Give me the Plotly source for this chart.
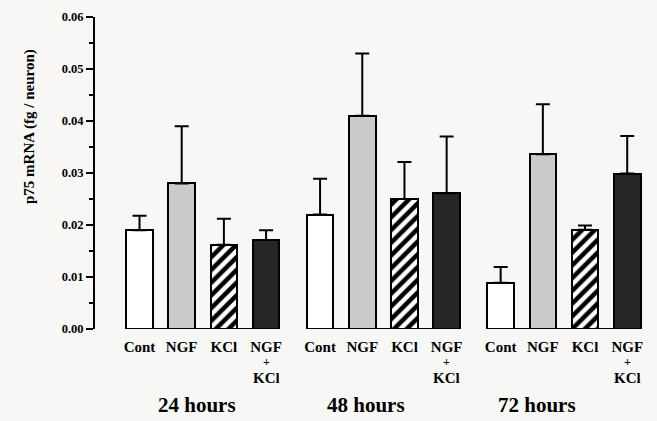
import plotly.graph_objects as go

groups = ["24 hours", "48 hours", "72 hours"]
treatments = ["Cont", "NGF", "KCl", "NGF"]
combo_extra_lines = ["+", "KCl"]
means = {
    "Cont":    [0.0190, 0.0220, 0.0089],
    "NGF":     [0.0280, 0.0410, 0.0336],
    "KCl":     [0.0162, 0.0250, 0.0191],
    "NGF+KCl": [0.0171, 0.0261, 0.0299],
}
errors = {
    "Cont":    [0.0028, 0.0069, 0.0030],
    "NGF":     [0.0110, 0.0120, 0.0096],
    "KCl":     [0.0050, 0.0071, 0.0008],
    "NGF+KCl": [0.0019, 0.0109, 0.0072],
}
y_ticks = [0.00, 0.01, 0.02, 0.03, 0.04, 0.05, 0.06]
y_tick_labels = ["0.00", "0.01", "0.02", "0.03", "0.04", "0.05", "0.06"]

GROUP_STEP = 4.28
BAR_W = 0.63
FONT = "Liberation Serif"
BG = "#f7f7f6"
PLOT_L, PLOT_R, PLOT_T, PLOT_B = 95, 650, 17, 329
H = PLOT_B - PLOT_T


def py(pixel_y):
    return (PLOT_B - pixel_y) / H


styles = {
    "Cont":    dict(color="white", pattern=None),
    "NGF":     dict(color="#cacaca", pattern=None),
    "KCl":     dict(color="white", pattern=dict(shape="/", fgcolor="black", bgcolor="white",
                                                 fgopacity=1, size=9, solidity=0.5)),
    "NGF+KCl": dict(color="#262626", pattern=None),
}

fig = go.Figure()
keys = list(means.keys())
tickvals, ticktext = [], []
for ti, key in enumerate(keys):
    xs = [g * GROUP_STEP + ti for g in range(len(groups))]
    st = styles[key]
    marker = dict(color=st["color"], line=dict(color="black", width=2))
    if st["pattern"]:
        marker["pattern"] = st["pattern"]
    fig.add_trace(go.Bar(
        x=xs, y=means[key], width=BAR_W, marker=marker,
        error_y=dict(type="data", array=errors[key], arrayminus=[0] * len(groups),
                     symmetric=False, color="black", thickness=2, width=7),
        showlegend=False,
    ))
    for x in xs:
        tickvals.append(x)
        ticktext.append(treatments[ti])
    if key == "NGF+KCl":
        for x in xs:
            for li, (txt, ypix) in enumerate(zip(combo_extra_lines, [361.5, 378])):
                fig.add_annotation(x=x, y=py(ypix), xref="x", yref="paper", yanchor="middle",
                                   text="<b>%s</b>" % txt, showarrow=False,
                                   font=dict(family=FONT, size=15 if li else 12, color="black"))

# baselines connecting bars in each group
for g in range(len(groups)):
    x0 = g * GROUP_STEP - BAR_W / 2
    x1 = g * GROUP_STEP + 3 + BAR_W / 2
    fig.add_shape(type="line", xref="x", yref="y", x0=x0, x1=x1, y0=0, y1=0,
                  line=dict(color="black", width=2), layer="above")

label_offsets = [1.36, 1.09, 0.87]
for g, name in enumerate(groups):
    fig.add_annotation(x=g * GROUP_STEP + label_offsets[g], y=py(405),
                       xref="x", yref="paper", yanchor="middle",
                       text="<b>%s</b>" % name, showarrow=False,
                       font=dict(family=FONT, size=21, color="black"))

fig.add_annotation(x=(30 - PLOT_L) / (PLOT_R - PLOT_L), y=py(127),
                   xref="paper", yref="paper", xanchor="center", yanchor="middle",
                   text="<b>p75 mRNA (fg / neuron)</b>",
                   showarrow=False, textangle=-90, font=dict(family=FONT, size=15, color="black"))

fig.update_layout(
    width=657, height=421,
    margin=dict(l=PLOT_L, r=657 - PLOT_R, t=PLOT_T, b=421 - PLOT_B),
    paper_bgcolor=BG, plot_bgcolor=BG,
    bargap=0,
    font=dict(family=FONT, color="black"),
    xaxis=dict(range=[-1.055, 12.10], tickvals=tickvals, ticktext=["<b>%s</b>" % t for t in ticktext],
               showline=False, showgrid=False, zeroline=False, ticks="", ticklabelstandoff=7,
               tickfont=dict(family=FONT, size=15, color="black")),
    yaxis=dict(range=[0, 0.06], tickvals=y_ticks, ticktext=["<b>%s</b>" % t for t in y_tick_labels],
               showline=True, linecolor="black", linewidth=2, ticks="outside", ticklen=7,
               tickwidth=2, tickcolor="black", showgrid=False, zeroline=False,
               tickfont=dict(family=FONT, size=12.5, color="black"),
               minor=dict(ticks="outside", ticklen=4, tickwidth=1.5, tickcolor="black", dtick=0.005)),
)

fig.write_html("out.html", config={"displayModeBar": False},
               post_script="document.body.style.margin='0';document.body.style.background='%s';" % BG)
